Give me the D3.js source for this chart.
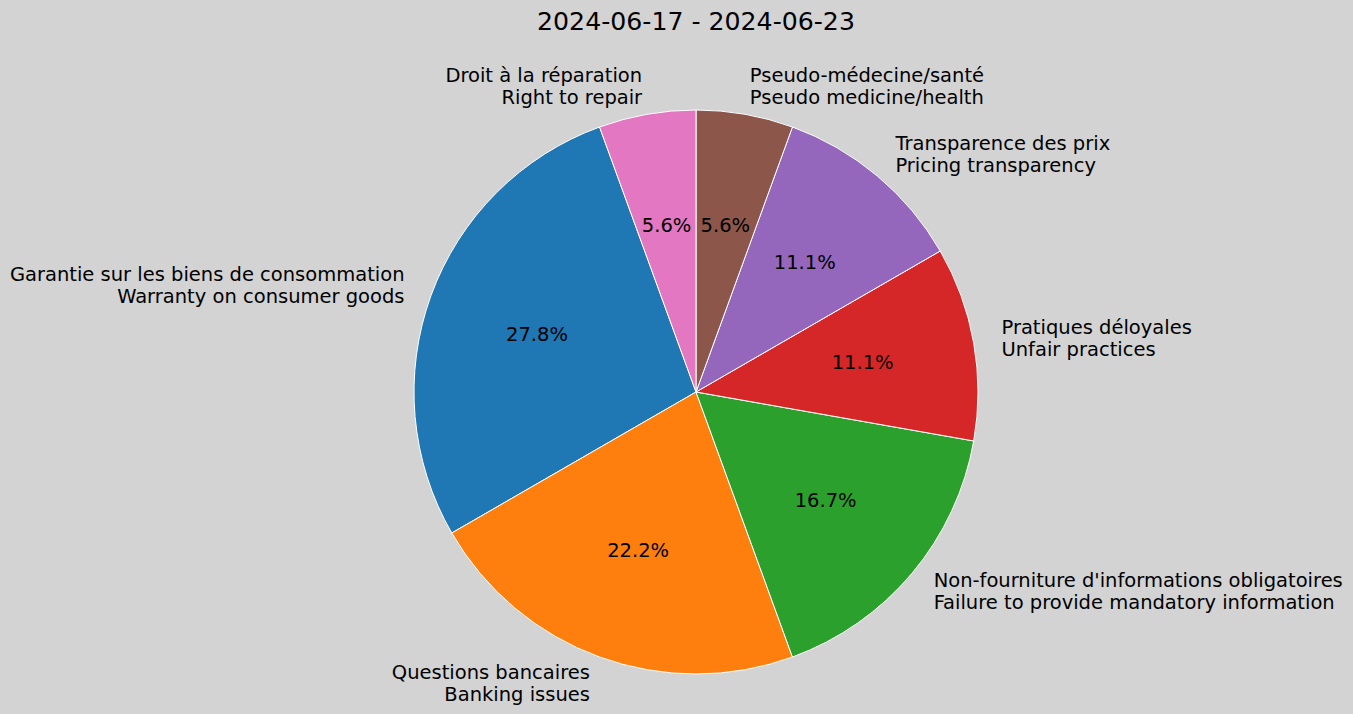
<!DOCTYPE html>
<html>
<head>
<meta charset="utf-8">
<script src="https://cdn.jsdelivr.net/npm/d3@7"></script>
<style>
html,body{margin:0;padding:0;background:#d3d3d3;}
svg{display:block;}
text{font-family:"DejaVu Sans",sans-serif;}
</style>
</head>
<body>
<svg id="chart" width="1353" height="714"></svg>
<script>
const title = "2024-06-17 - 2024-06-23";
const labelsFr = ["Garantie sur les biens de consommation","Questions bancaires","Non-fourniture d'informations obligatoires","Pratiques déloyales","Transparence des prix","Pseudo-médecine/santé","Droit à la réparation"];
const labelsEn = ["Warranty on consumer goods","Banking issues","Failure to provide mandatory information","Unfair practices","Pricing transparency","Pseudo medicine/health","Right to repair"];
const counts = [5,4,3,2,2,1,1];
const colors = ["#1f77b4","#ff7f0e","#2ca02c","#d62728","#9467bd","#8c564b","#e377c2"];

const W=1353,H=714,cx=696,cy=392,R=282;
const svg=d3.select("#chart");
svg.append("rect").attr("width",W).attr("height",H).attr("fill","#d3d3d3");
svg.append("text").attr("x",cx).attr("y",21).attr("text-anchor","middle")
  .attr("dominant-baseline","central").attr("font-size",25.2).attr("fill","#000").text(title);

const startDeg = 110; // math angle, counterclockwise
const a0 = (90-startDeg)*Math.PI/180;
const pie=d3.pie().sort(null).value(d=>d).startAngle(a0).endAngle(a0-2*Math.PI);
const arcs=pie(counts);
const arc=d3.arc().innerRadius(0).outerRadius(R);
const g=svg.append("g").attr("transform",`translate(${cx},${cy})`);
g.selectAll("path").data(arcs).join("path").attr("d",arc)
  .attr("fill",(d,i)=>colors[i]).attr("stroke","#fff").attr("stroke-width",1).attr("stroke-linejoin","round");
const total=d3.sum(counts);
arcs.forEach((d,i)=>{
  const m=(d.startAngle+d.endAngle)/2;
  const sx=Math.sin(m), sy=-Math.cos(m);
  g.append("text").attr("x",0.6*R*sx).attr("y",0.6*R*sy).attr("text-anchor","middle")
    .attr("dominant-baseline","central").attr("font-size",19.5).attr("fill","#000")
    .text((counts[i]/total*100).toFixed(1)+"%");
  const lx=1.1*R*sx, ly=1.1*R*sy;
  const t=g.append("text").attr("font-size",19.5).attr("fill","#000")
    .attr("text-anchor", lx<0?"end":"start");
  [labelsFr[i],labelsEn[i]].forEach((s,j)=>{
    t.append("tspan").attr("x",lx).attr("y",ly+(j-0.5)*22).attr("dominant-baseline","central").text(s);
  });
});
</script>
</body>
</html>
